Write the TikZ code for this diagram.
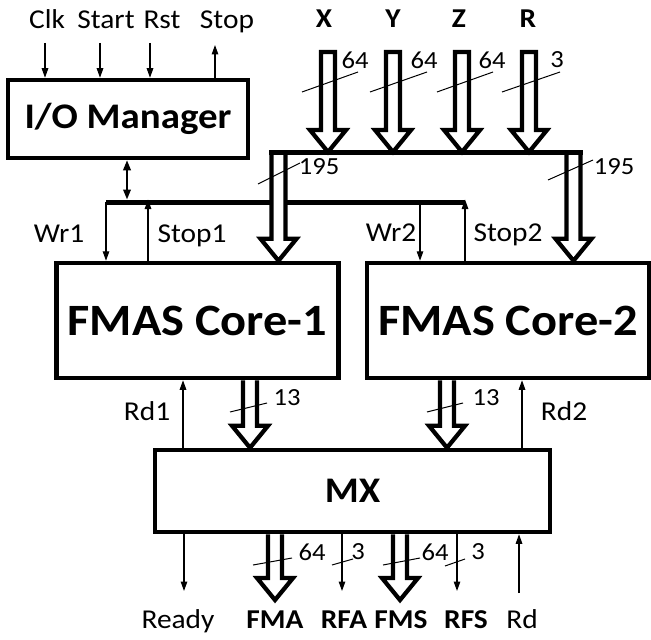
\documentclass[tikz,border=0pt]{standalone}
\usepackage{fontspec}
\setmainfont{Carlito}[FakeStretch=1.08]
\usetikzlibrary{arrows.meta, positioning, calc}

% hollow bus arrow, from top #2 down to tip #3 (#1 = -- cycle for a closed top)
\newcommand{\busarrow}[3][]{%
  \path[hollow] let \p1=(#2), \p2=(#3) in
    (\x1-1.4mm,\y1) -- (\x1-1.4mm,\y2+4.4mm) -- (\x1-3.6mm,\y2+4.4mm) -- (\x1,\y2)
    -- (\x1+3.6mm,\y2+4.4mm) -- (\x1+1.4mm,\y2+4.4mm) -- (\x1+1.4mm,\y1) #1;}

\begin{document}
\begin{tikzpicture}[
    x=0.2mm, y=-0.2mm,
    block/.style={draw, line width=0.9mm, minimum width=56.4mm, minimum height=23mm, font=\fontsize{25.5}{28}\selectfont\bfseries},
    lbl/.style={anchor=base, inner sep=0pt, font=\fontsize{15.5}{18}\selectfont},
    lblb/.style={lbl, font=\fontsize{15.5}{18}\selectfont\bfseries},
    num/.style={inner sep=0pt, font=\fontsize{14}{16}\selectfont},
    sig/.style={line width=0.26mm, -{Triangle[length=1.9mm,width=1.3mm]}},
    dsig/.style={line width=0.4mm, {Triangle[length=2mm,width=1.5mm]}-{Triangle[length=2mm,width=1.5mm]}},
    bus/.style={line width=1mm, line cap=rect},
    hollow/.style={draw, fill=white, line width=0.85mm, line join=miter},
    tick/.style={line width=0.2mm}
]
    \useasboundingbox (0,0) rectangle (651,639);

    % Blocks
    \node (io) [block, minimum width=48mm, minimum height=15.6mm, font=\fontsize{20.5}{24}\selectfont\bfseries] at (128,119) {I/O Manager};
    \node (core1) [block] at (197.5,320.5) {FMAS Core-1};
    \node (core2) [block, right=4.8mm of core1] {FMAS Core-2};
    \node (mx) [block, minimum width=79mm, minimum height=16.4mm, font=\fontsize{20.5}{24}\selectfont\bfseries] at (352.5,491) {MX};

    % Control inputs of the I/O manager
    \node (clk) [lbl] at (47,29) {Clk};
    \node (start) [lbl] at (106,29) {Start};
    \node (rst) [lbl] at (162,29) {Rst};
    \node (stop) [lbl] at (227,29) {Stop};
    \coordinate (clkin) at (45,43);
    \coordinate (startin) at (100,43);
    \coordinate (rstin) at (150,43);
    \coordinate (stopout) at (215,45);
    \draw [sig] (clkin) -- (clkin |- io.north);
    \draw [sig] (startin) -- (startin |- io.north);
    \draw [sig] (rstin) -- (rstin |- io.north);
    \draw [sig] (stopout |- io.north) -- (stopout);

    % Control bus
    \coordinate (cb1) at (106,202);
    \coordinate (cb2) at (465,202);
    \coordinate (iob) at (127,202);
    \coordinate (s1) at (148,202);
    \coordinate (w2) at (420,202);
    \draw [bus, line cap=butt] (cb1) -- (cb2);
    \draw [dsig] (iob |- io.south) -- ([yshift=0.5mm]iob);
    \draw [sig] (cb1) -- (cb1 |- core1.north);
    \draw [sig] (s1 |- core1.north) -- ([yshift=0.5mm]s1);
    \draw [sig] (w2) -- (w2 |- core2.north);
    \draw [sig] (cb2 |- core2.north) -- ([yshift=0.5mm]cb2);
    \node (wr1) [lbl] at (59,242) {Wr1};
    \node (stop1) [lbl] at (192,242) {Stop1};
    \node (wr2) [lbl] at (391,241) {Wr2};
    \node (stop2) [lbl] at (508,241) {Stop2};

    % Data bus
    \coordinate (dbl) at (278.5,152);
    \coordinate (dbr) at (573.5,152);
    \busarrow{dbl}{dbl |- core1.north}
    \busarrow{dbr}{dbr |- core2.north}
    \node (x) [lblb] at (324,28) {X};
    \node (y) [lblb] at (393,28) {Y};
    \node (z) [lblb] at (459,28) {Z};
    \node (r) [lblb] at (528,28) {R};
    \coordinate (xin) at (328,52);
    \coordinate (yin) at (393,52);
    \coordinate (zin) at (462,52);
    \coordinate (rin) at (529,52);
    \busarrow[-- cycle]{xin}{xin |- dbl}
    \busarrow[-- cycle]{yin}{yin |- dbl}
    \busarrow[-- cycle]{zin}{zin |- dbl}
    \busarrow[-- cycle]{rin}{rin |- dbl}
    \draw [bus] (dbl) ++(-1.4mm,0) -- ([xshift=1.4mm]dbr);

    % Bus widths
    \draw [tick] (302,92) -- (358,72);
    \draw [tick] (370,92) -- (427,72);
    \draw [tick] (437,92) -- (493,72);
    \draw [tick] (502,92) -- (560,72);
    \node (wx) [num] at (355,60) {64};
    \node (wy) [num] at (424,60) {64};
    \node (wz) [num] at (492,60) {64};
    \node (wr) [num] at (557,60) {3};
    \draw [tick] (258,184) -- (300,163);
    \draw [tick] (548,180) -- (593,160);
    \node (wc1) [num] at (319,167) {195};
    \node (wc2) [num] at (614,167) {195};

    % Cores to MX
    \coordinate (o1) at (250,447);
    \coordinate (o2) at (447,447);
    \busarrow{o1 |- core1.south}{o1 |- mx.north}
    \busarrow{o2 |- core2.south}{o2 |- mx.north}
    \draw [tick] (230,412) -- (267,403);
    \draw [tick] (427,412) -- (463,403);
    \node (w13a) [num] at (287,398) {13};
    \node (w13b) [num] at (486,398) {13};
    \coordinate (rd1) at (183,450);
    \coordinate (rd2) at (522,450);
    \draw [sig] (rd1 |- mx.north) -- (rd1 |- core1.south);
    \draw [sig] (rd2 |- mx.north) -- (rd2 |- core2.south);
    \node (lrd1) [lbl] at (147,420) {Rd1};
    \node (lrd2) [lbl] at (564,420) {Rd2};

    % MX outputs
    \coordinate (readyout) at (184,591);
    \coordinate (fmaout) at (275,600);
    \coordinate (rfaout) at (342,591);
    \coordinate (fmsout) at (400,600);
    \coordinate (rfsout) at (457,591);
    \coordinate (rdin) at (519,593);
    \draw [sig] (readyout |- mx.south) -- (readyout);
    \busarrow{fmaout |- mx.south}{fmaout}
    \draw [sig] (rfaout |- mx.south) -- (rfaout);
    \busarrow{fmsout |- mx.south}{fmsout}
    \draw [sig] (rfsout |- mx.south) -- (rfsout);
    \draw [sig] (rdin) -- (rdin |- mx.south);
    \draw [tick] (253,565) -- (292,558);
    \draw [tick] (332,565) -- (353,559);
    \draw [tick] (383,565) -- (420,558);
    \draw [tick] (445,566) -- (465,559);
    \node (wfma) [num] at (312,552) {64};
    \node (wrfa) [num] at (358,552) {3};
    \node (wfms) [num] at (435,552) {64};
    \node (wrfs) [num] at (478,552) {3};
    \node (ready) [lbl] at (178,628) {Ready};
    \node (fma) [lblb] at (275,628) {FMA};
    \node (rfa) [lblb] at (344,628) {RFA};
    \node (fms) [lblb] at (401,628) {FMS};
    \node (rfs) [lblb] at (466,628) {RFS};
    \node (rd) [lbl] at (522,628) {Rd};
\end{tikzpicture}
\end{document}
